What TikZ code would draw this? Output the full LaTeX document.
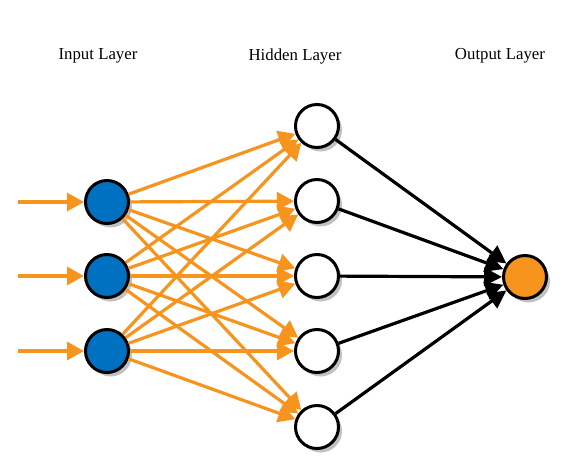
\documentclass[tikz,border=0pt]{standalone}
\usepackage{fontspec}
\setmainfont{Liberation Serif}
\usetikzlibrary{arrows.meta,shadows}
\definecolor{inblue}{RGB}{0,112,192}
\definecolor{orangeln}{RGB}{247,148,30}
\begin{document}
\begin{tikzpicture}[x=1pt,y=-1pt,
  neuron/.style={circle,draw=black,line width=3pt,minimum size=43pt,inner sep=0pt,
    drop shadow={shadow xshift=3.5pt,shadow yshift=-4pt,opacity=0.3,fill=black!80}},
  innode/.style={neuron,fill=inblue},
  hidnode/.style={neuron,fill=white},
  outnode/.style={neuron,fill=orangeln},
  oline/.style={draw=orangeln,line width=3.2pt,-{Triangle[length=17pt,width=18pt]}},
  bline/.style={draw=black,line width=3.2pt,-{Triangle[length=18pt,width=18pt]}},
  lbl/.style={font=\fontsize{16.8}{19}\selectfont}]
\useasboundingbox (0,0) rectangle (577,472);
\node[lbl] (tin) at (98,56) {Input Layer};
\node[lbl] (thid) at (295,56) {Hidden Layer};
\node[lbl] (tout) at (500,56) {Output Layer};
\foreach \i/\y in {1/202,2/276,3/351} {
  \coordinate (s\i) at (18,\y);
}
\foreach \j/\y in {1/126,2/201,3/276,4/351,5/427} {
  \node[hidnode] (h\j) at (317,\y) {};
}
\foreach \i/\y in {1/202,2/276,3/351} {
  \node[innode] (i\i) at (107,\y) {};
}
\node[outnode] (o) at (525,277) {};
\foreach \i in {1,2,3} {
  \draw[oline] (s\i) -- (i\i);
  \foreach \j in {1,...,5} {
    \draw[oline] (i\i) -- (h\j);
  }
}
\foreach \j in {1,...,5} {
  \draw[bline] (h\j) -- (o);
}
\end{tikzpicture}
\end{document}
